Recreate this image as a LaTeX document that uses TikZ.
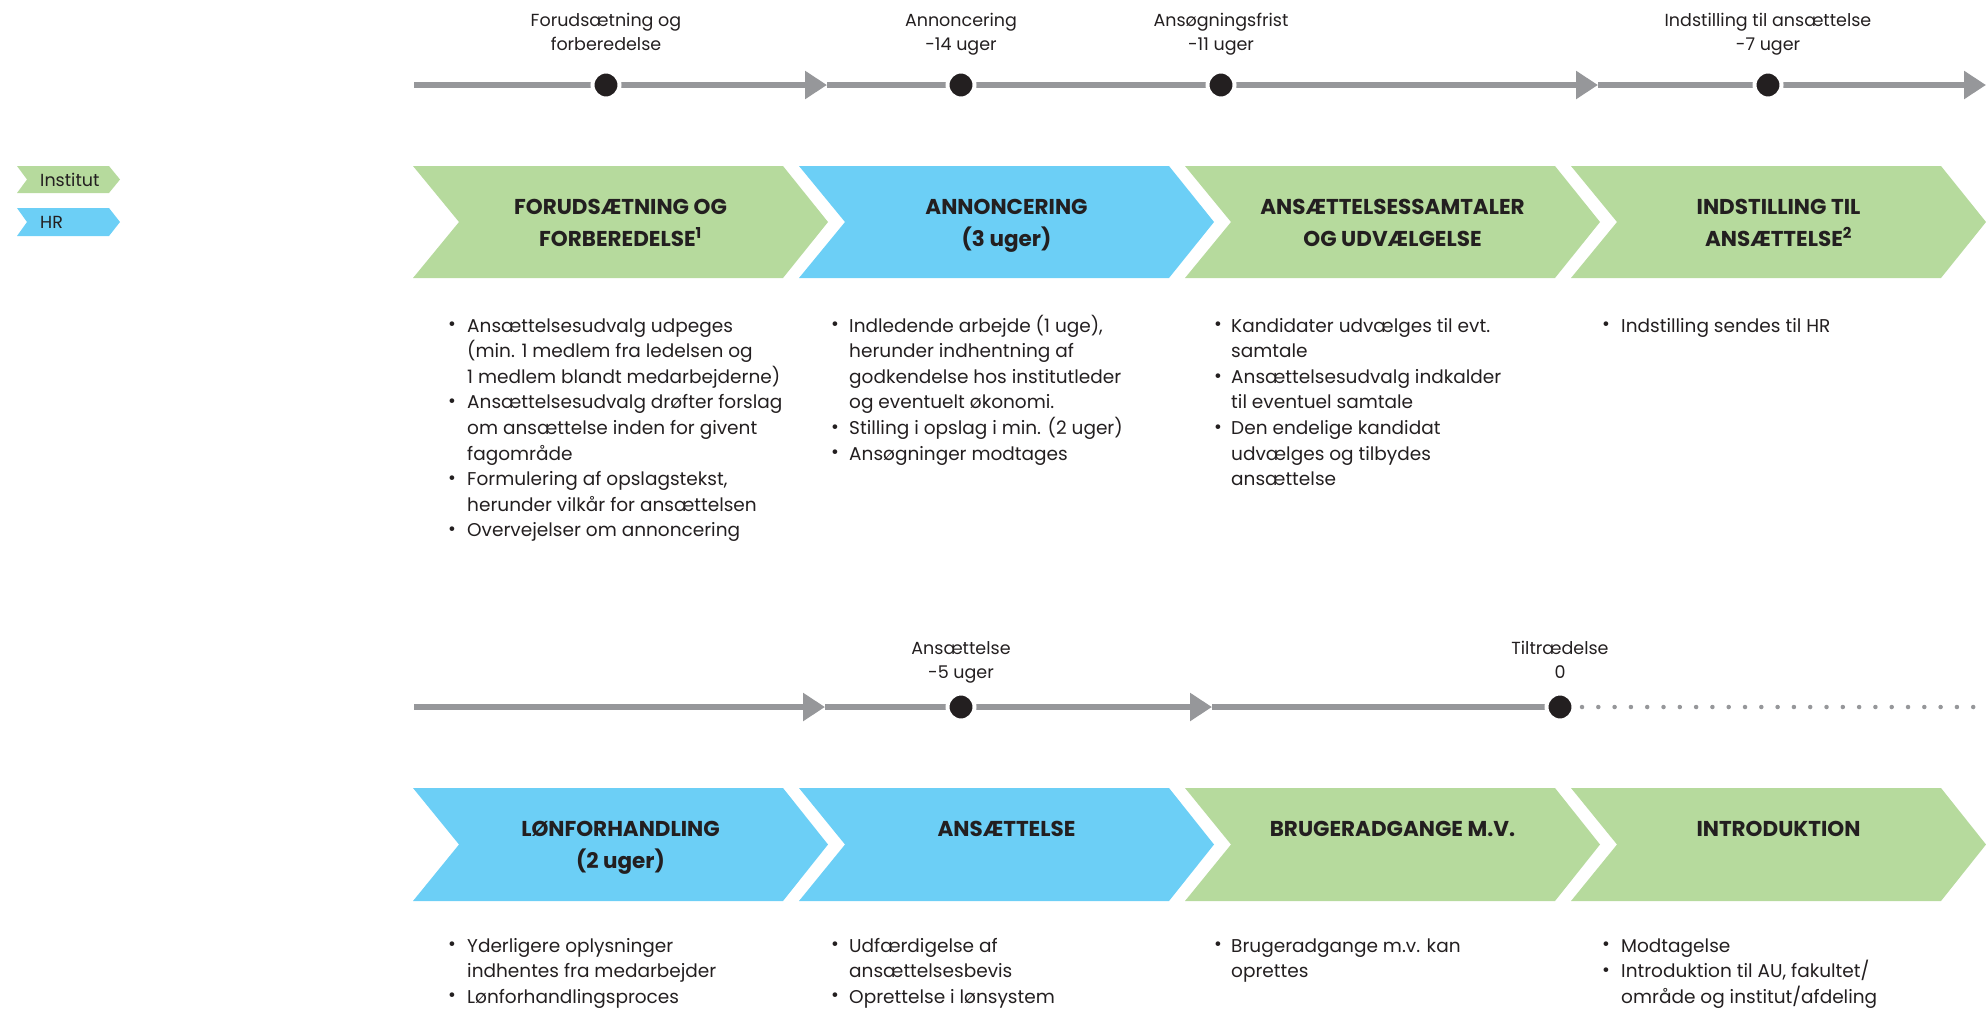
\documentclass[tikz,border=0pt]{standalone}
\usepackage{fontspec}
\setmainfont{Poppins}
\usetikzlibrary{arrows.meta}
\definecolor{grn}{RGB}{182,218,157}
\definecolor{blu}{RGB}{108,207,246}
\definecolor{tlc}{RGB}{150,151,154}
\definecolor{ink}{RGB}{35,31,32}
\newcommand\chevshape[4]{% s, t, h, color
  \fill[#4] (#1,#2) -- ++(370,0) -- ++(45,#3/2) -- ++(-45,#3/2) -- ++(-370,0) -- ++(46,-#3/2) -- cycle;}
\newcommand\txtline[4]{\node[body,anchor=base west] (#1) at (#2,#3) {#4};}
\newcommand\bulpt[3]{\node[bulst] (#1) at (#2,#3-5.5) {•};}
\begin{document}
\begin{tikzpicture}[x=1pt,y=-1pt,
  body/.style={font=\fontsize{18.5}{22}\selectfont, text=ink, inner sep=0pt},
  lbl/.style={font=\fontsize{17.5}{21}\selectfont, text=ink, inner sep=0pt, anchor=base},
  head/.style={font=\fontsize{21.5}{25}\selectfont\bfseries, text=ink, inner sep=0pt, anchor=base},
  leg/.style={font=\fontsize{17.5}{21}\selectfont, text=ink, inner sep=0pt, anchor=west},
  bulst/.style={font=\fontsize{19}{19}\selectfont, text=ink, inner sep=0pt},
  tline/.style={draw=tlc, line width=6pt},
  tarrow/.style={tline, -{Triangle[length=22pt,width=27pt]}},
  tdot/.style={circle, fill=ink, draw=white, line width=4pt, minimum size=27pt, inner sep=0pt}]
\useasboundingbox (0,0) rectangle (1986,1010);

% legend
\fill[grn] (17,166) -- (109,166) -- (120,179.5) -- (109,193) -- (17,193) -- (27,179.5) -- cycle;
\fill[blu] (17,208) -- (109,208) -- (120,222) -- (109,236) -- (17,236) -- (27,222) -- cycle;
\node[leg] (legI) at (40,180) {Institut};
\node[leg] (legH) at (40,222) {HR};

% ---------- top timeline ----------
\coordinate (ta) at (414,85);
\coordinate (ta1) at (827,85);
\coordinate (ta2) at (1598,85);
\coordinate (ta3) at (1986,85);
\draw[tarrow] (ta) -- (ta1);
\draw[tarrow] (ta1) -- (ta2);
\draw[tarrow] (ta2) -- (ta3);
\node[tdot] (td1) at (606,85) {};
\node[tdot] (td2) at (961,85) {};
\node[tdot] (td3) at (1221,85) {};
\node[tdot] (td4) at (1768,85) {};
\node[lbl] (l1a) at (606,26) {Forudsætning og};
\node[lbl] (l1b) at (606,50) {forberedelse};
\node[lbl] (l2a) at (961,26) {Annoncering};
\node[lbl] (l2b) at (961,50) {-14 uger};
\node[lbl] (l3a) at (1221,26) {Ansøgningsfrist};
\node[lbl] (l3b) at (1221,50) {-11 uger};
\node[lbl] (l4a) at (1768,26) {Indstilling til ansættelse};
\node[lbl] (l4b) at (1768,50) {-7 uger};

% ---------- top chevrons ----------
\chevshape{413}{166}{112}{grn}
\chevshape{799}{166}{112}{blu}
\chevshape{1185}{166}{112}{grn}
\chevshape{1571}{166}{112}{grn}
\node[head] (h1a) at (620.5,214) {FORUDSÆTNING OG};
\node[head] (h1b) at (620.5,246) {FORBEREDELSE\textsuperscript{1}};
\node[head] (h2a) at (1006.5,214) {ANNONCERING};
\node[head] (h2b) at (1006.5,246) {(3 uger)};
\node[head] (h3a) at (1392.5,214) {ANSÆTTELSESSAMTALER};
\node[head] (h3b) at (1392.5,246) {OG UDVÆLGELSE};
\node[head] (h4a) at (1778.5,214) {INDSTILLING TIL};
\node[head] (h4b) at (1778.5,246) {ANSÆTTELSE\textsuperscript{2}};

% ---------- top lists ----------
\bulpt{b11}{452}{332}
\txtline{t11}{467}{332}{Ansættelsesudvalg udpeges}
\txtline{t12}{467}{357.6}{(min. 1 medlem fra ledelsen og}
\txtline{t13}{467}{383.2}{1 medlem blandt medarbejderne)}
\bulpt{b12}{452}{408.8}
\txtline{t14}{467}{408.8}{Ansættelsesudvalg drøfter forslag}
\txtline{t15}{467}{434.4}{om ansættelse inden for givent}
\txtline{t16}{467}{460}{fagområde}
\bulpt{b13}{452}{485.6}
\txtline{t17}{467}{485.6}{Formulering af opslagstekst,}
\txtline{t18}{467}{511.2}{herunder vilkår for ansættelsen}
\bulpt{b14}{452}{536.8}
\txtline{t19}{467}{536.8}{Overvejelser om annoncering}

\bulpt{b21}{835}{332}
\txtline{t21}{849}{332}{Indledende arbejde (1 uge),}
\txtline{t22}{849}{357.6}{herunder indhentning af}
\txtline{t23}{849}{383.2}{godkendelse hos institutleder}
\txtline{t24}{849}{408.8}{og eventuelt økonomi.}
\bulpt{b22}{835}{434.4}
\txtline{t25}{849}{434.4}{Stilling i opslag i min. (2 uger)}
\bulpt{b23}{835}{460}
\txtline{t26}{849}{460}{Ansøgninger modtages}

\bulpt{b31}{1218}{332}
\txtline{t31}{1231}{332}{Kandidater udvælges til evt.}
\txtline{t32}{1231}{357.6}{samtale}
\bulpt{b32}{1218}{383.2}
\txtline{t33}{1231}{383.2}{Ansættelsesudvalg indkalder}
\txtline{t34}{1231}{408.8}{til eventuel samtale}
\bulpt{b33}{1218}{434.4}
\txtline{t35}{1231}{434.4}{Den endelige kandidat}
\txtline{t36}{1231}{460}{udvælges og tilbydes}
\txtline{t37}{1231}{485.6}{ansættelse}

\bulpt{b41}{1606}{332}
\txtline{t41}{1621}{332}{Indstilling sendes til HR}

% ---------- bottom timeline ----------
\coordinate (ba) at (414,707);
\coordinate (ba1) at (825,707);
\coordinate (ba2) at (1212,707);
\coordinate (ba3) at (1560,707);
\coordinate (bdot) at (1582,707);
\coordinate (bend) at (1990,707);
\draw[tarrow] (ba) -- (ba1);
\draw[tarrow] (ba1) -- (ba2);
\draw[tline] (ba2) -- (ba3);
\draw[tlc, line width=4.5pt, line cap=round, dash pattern=on 0pt off 16.3pt] (bdot) -- (bend);
\node[tdot] (bd1) at (961,707) {};
\node[tdot] (bd2) at (1560,707) {};
\node[lbl] (m1a) at (961,654) {Ansættelse};
\node[lbl] (m1b) at (961,678) {-5 uger};
\node[lbl] (m2a) at (1560,654) {Tiltrædelse};
\node[lbl] (m2b) at (1560,678) {0};

% ---------- bottom chevrons ----------
\chevshape{413}{788}{113}{blu}
\chevshape{799}{788}{113}{blu}
\chevshape{1185}{788}{113}{grn}
\chevshape{1571}{788}{113}{grn}
\node[head] (g1a) at (620.5,836) {LØNFORHANDLING};
\node[head] (g1b) at (620.5,868) {(2 uger)};
\node[head] (g2a) at (1006.5,836) {ANSÆTTELSE};
\node[head] (g3a) at (1392.5,836) {BRUGERADGANGE M.V.};
\node[head] (g4a) at (1778.5,836) {INTRODUKTION};

% ---------- bottom lists ----------
\bulpt{c11}{452}{952}
\txtline{u11}{467}{952}{Yderligere oplysninger}
\txtline{u12}{467}{977.5}{indhentes fra medarbejder}
\bulpt{c12}{452}{1003}
\txtline{u13}{467}{1003}{Lønforhandlingsproces}

\bulpt{c21}{835}{952}
\txtline{u21}{849}{952}{Udfærdigelse af}
\txtline{u22}{849}{977.5}{ansættelsesbevis}
\bulpt{c22}{835}{1003}
\txtline{u23}{849}{1003}{Oprettelse i lønsystem}

\bulpt{c31}{1218}{952}
\txtline{u31}{1231}{952}{Brugeradgange m.v. kan}
\txtline{u32}{1231}{977.5}{oprettes}

\bulpt{c41}{1606}{952}
\txtline{u41}{1621}{952}{Modtagelse}
\bulpt{c42}{1606}{977.5}
\txtline{u42}{1621}{977.5}{Introduktion til AU, fakultet/}
\txtline{u43}{1621}{1003}{område og institut/afdeling}
\end{tikzpicture}
\end{document}
